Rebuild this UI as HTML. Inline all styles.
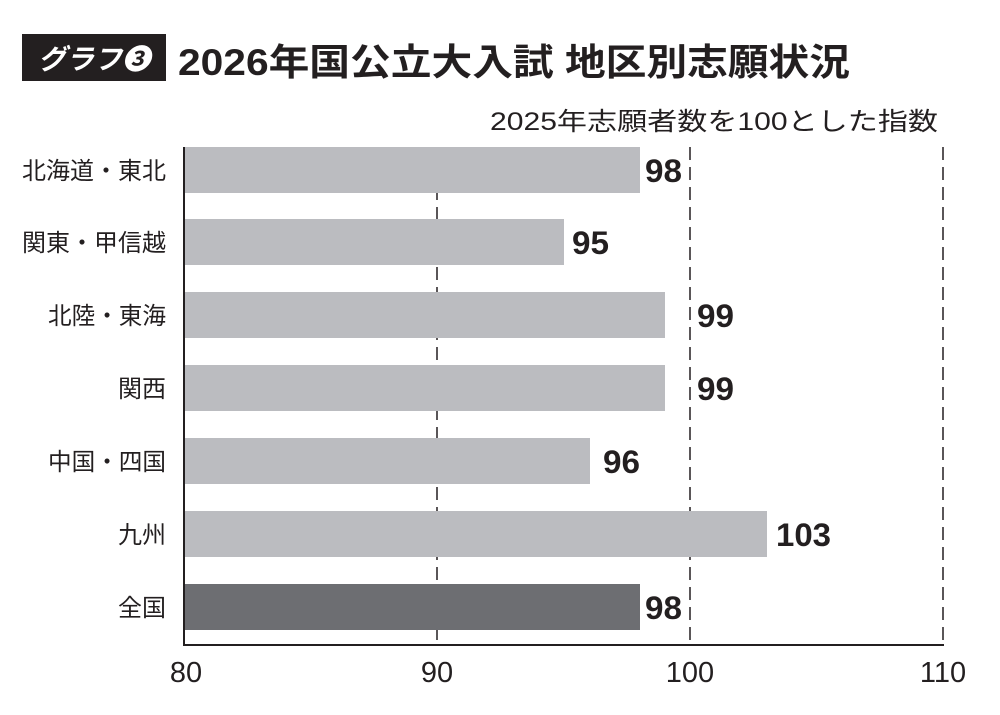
<!DOCTYPE html>
<html><head><meta charset="utf-8"><style>
body{margin:0;background:#fff;}
svg text{font-family:"Liberation Sans","Noto Sans CJK JP",sans-serif;}
</style></head><body>
<svg width="1000" height="710" viewBox="0 0 1000 710" xmlns="http://www.w3.org/2000/svg">
<rect x="22" y="34" width="144" height="47" fill="#231f20"/>
<text x="38" y="69" font-size="28" font-weight="bold" font-style="italic" fill="#fff" textLength="112" lengthAdjust="spacingAndGlyphs">グラフ❸</text>
<text x="178" y="75" font-size="37" font-weight="bold" fill="#231f20" textLength="672" lengthAdjust="spacingAndGlyphs">2026年国公立大入試 地区別志願状況</text>
<text x="490" y="130" font-size="25" fill="#231f20" textLength="448" lengthAdjust="spacingAndGlyphs">2025年志願者数を100とした指数</text>
<g stroke="#231f20" stroke-width="1.5" stroke-dasharray="13,7">
<line x1="437" y1="147" x2="437" y2="645"/>
<line x1="690" y1="147" x2="690" y2="645"/>
<line x1="943" y1="147" x2="943" y2="645"/>
</g>
<g fill="#bbbcc0">
<rect x="184" y="147" width="456" height="46"/>
<rect x="184" y="219" width="380" height="46"/>
<rect x="184" y="292" width="481" height="46"/>
<rect x="184" y="365" width="481" height="46"/>
<rect x="184" y="438" width="406" height="46"/>
<rect x="184" y="511" width="583" height="46"/>
</g>
<rect x="184" y="584" width="456" height="46" fill="#6d6e72"/>
<line x1="184" y1="147" x2="184" y2="646" stroke="#231f20" stroke-width="2"/>
<line x1="184" y1="645" x2="944" y2="645" stroke="#231f20" stroke-width="2"/>
<g font-size="24" fill="#231f20" text-anchor="end">
<text x="166" y="179" textLength="144" lengthAdjust="spacingAndGlyphs">北海道・東北</text>
<text x="166" y="251" textLength="144" lengthAdjust="spacingAndGlyphs">関東・甲信越</text>
<text x="166" y="324" textLength="118" lengthAdjust="spacingAndGlyphs">北陸・東海</text>
<text x="166" y="397">関西</text>
<text x="166" y="470" textLength="118" lengthAdjust="spacingAndGlyphs">中国・四国</text>
<text x="166" y="543">九州</text>
<text x="166" y="616">全国</text>
</g>
<g font-size="32" font-weight="bold" fill="#231f20">
<text x="645" y="182" textLength="37" lengthAdjust="spacingAndGlyphs">98</text>
<text x="572" y="254" textLength="37" lengthAdjust="spacingAndGlyphs">95</text>
<text x="697" y="327" textLength="37" lengthAdjust="spacingAndGlyphs">99</text>
<text x="697" y="400" textLength="37" lengthAdjust="spacingAndGlyphs">99</text>
<text x="603" y="473" textLength="37" lengthAdjust="spacingAndGlyphs">96</text>
<text x="776" y="546" textLength="55" lengthAdjust="spacingAndGlyphs">103</text>
<text x="645" y="619" textLength="37" lengthAdjust="spacingAndGlyphs">98</text>
</g>
<g font-size="29" fill="#231f20" text-anchor="middle">
<text x="186" y="682">80</text>
<text x="437" y="682">90</text>
<text x="690" y="682">100</text>
<text x="943" y="682">110</text>
</g>
</svg>
</body></html>
